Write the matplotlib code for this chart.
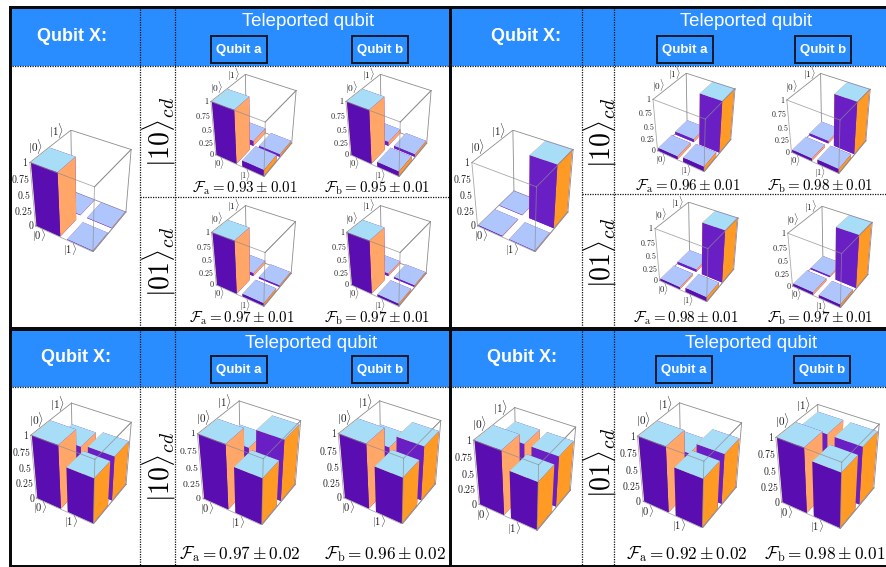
# plot.py
# four panels of teleported qubit bar charts

import matplotlib
matplotlib.use('Agg')
import matplotlib.pyplot as plt
from matplotlib.patches import Rectangle
from mpl_toolkits.mplot3d import proj3d

plt.rcParams['mathtext.fontset'] = 'cm'
plt.rcParams['font.family'] = ['Liberation Sans', 'DejaVu Sans']

W, H = 886, 567

# bar heights, order: |0>|0>, |0>|1>, |1>|0>, |1>|1>
tl_x = [1.0, 0.005, 0.005, 0.005]
tl_a10 = [1.0, 0.10, 0.12, 0.05]
tl_b10 = [1.0, 0.08, 0.09, 0.05]
tl_a01 = [1.0, 0.06, 0.05, 0.03]
tl_b01 = [1.0, 0.05, 0.04, 0.03]
tr_x = [0.01, 0.005, 0.005, 1.0]
tr_a10 = [0.06, 0.06, 0.09, 1.0]
tr_b10 = [0.05, 0.05, 0.08, 1.0]
tr_a01 = [0.04, 0.05, 0.08, 1.0]
tr_b01 = [0.05, 0.03, 0.05, 1.0]
bl_x = [1.0, 0.68, 0.72, 0.72]
bl_a = [1.0, 0.65, 0.72, 0.95]
bl_b = [1.0, 0.65, 0.72, 0.85]
br_x = [1.0, 0.80, 0.75, 0.80]
br_a = [1.0, 0.60, 0.75, 0.78]
br_b = [1.0, 0.90, 0.85, 0.90]

z_ticks = [0, 0.25, 0.5, 0.75, 1]
z_tick_labels = ['0', '0.25', '0.5', '0.75', '1']
ket_labels = [r'$|0\rangle$', r'$|1\rangle$']

fid_tl = ['0.93', '0.95', '0.97', '0.97']
fid_tr = ['0.96', '0.98', '0.98', '0.97']
fid_bl = ['0.97', '0.96']
fid_br = ['0.92', '0.98']
err_bl = ['0.02', '0.02']
err_br = ['0.02', '0.01']

# chart, then wire box in pixels: left, right, top, bottom
charts = [
    (tl_x, 30, 131, 130, 252), (tl_a10, 212, 295, 73, 178), (tl_b10, 347, 430, 73, 178),
    (tl_a01, 212, 295, 205, 307), (tl_b01, 347, 430, 205, 307),
    (tr_x, 472, 573, 130, 252), (tr_a10, 654, 734, 72, 173), (tr_b10, 788, 869, 72, 175),
    (tr_a01, 656, 737, 201, 303), (tr_b01, 788, 872, 206, 308),
    (bl_x, 30, 132, 404, 523), (bl_a, 199, 299, 399, 527), (bl_b, 339, 440, 400, 525),
    (br_x, 473, 576, 408, 530), (br_a, 639, 740, 401, 530), (br_b, 777, 878, 403, 530),
]

BLUE = '#2A8DFF'

fig = plt.figure(figsize=(W / 100, H / 100), dpi=100, facecolor='white')
bg = fig.add_axes([0, 0, 1, 1])
bg.set_xlim(0, W)
bg.set_ylim(H, 0)
bg.axis('off')


def header(x0, y0, y1, xq, tx, boxa, boxb, by):
    bg.add_patch(Rectangle((x0, y0), 886, y1 - y0, fc=BLUE, ec='none', zorder=1))
    bg.text(xq, (y0 + y1) / 2 - 1, 'Qubit X:', color='white', fontsize=13, fontweight='bold',
            ha='center', va='center', zorder=3)
    bg.text(tx, y0 + 13, 'Teleported qubit', color='white', fontsize=13.4, ha='center', va='center', zorder=3)
    for bx, name in ((boxa, 'Qubit a'), (boxb, 'Qubit b')):
        bg.add_patch(Rectangle((bx, by), 56, 27, fc=BLUE, ec='#101828', lw=1.4, zorder=2))
        bg.text(bx + 28, by + 13.5, name, color='white', fontsize=9.5, fontweight='bold',
                ha='center', va='center', zorder=3)


for args in [(12, 9, 66, 72, 308, 211, 352, 36), (452, 9, 66, 526, 746, 657, 795, 36),
             (12, 331, 387, 76, 311, 211, 352, 356), (452, 331, 387, 522, 751, 656, 794, 356)]:
    header(*args)

# dotted grid
dot = dict(color='#111111', lw=0.9, ls=(0, (1, 1)), zorder=4)
for xv in (140.5, 175.5, 582.5, 614.5):
    bg.plot([xv, xv], [9, 327], **dot)
    bg.plot([xv, xv], [331, 565], **dot)
bg.plot([12, 886], [66, 66], **dot)
bg.plot([12, 886], [387, 387], **dot)
bg.plot([140, 449], [197, 197], **dot)
bg.plot([582, 886], [194, 194], **dot)

# black frame
for rect in [(9, 6, 877, 3), (9, 6, 3, 561), (9, 564.5, 877, 2.5), (9, 327, 877, 4), (449, 6, 3, 561)]:
    bg.add_patch(Rectangle(rect[:2], rect[2], rect[3], fc='#0a0a0a', ec='none', zorder=5))


# ket labels rotated in the dotted column
def ket(x, y, s):
    bg.text(x, y, s, rotation=90, fontsize=20, ha='center', va='center', zorder=3)


for x, y, s in [(159, 132, '10'), (159, 262, '01'), (159, 467, '10'),
                (600, 133, '10'), (600, 253, '01'), (600, 463, '01')]:
    ket(x, y, r'$|' + s + r'\rangle_{cd}$')


def fidelity(x, y, q, val, err, size):
    s = r'$\mathcal{F}_{\mathrm{' + q + r'}} = \mathbf{' + val + r'} \pm \mathbf{' + err + '}$'
    bg.text(x, y, s, fontsize=size, ha='center', va='center', zorder=3)


for (x, y), q, v in zip([(245, 188), (377, 188), (242, 318), (377, 318)], 'abab', fid_tl):
    fidelity(x, y, q, v, '0.01', 10.8)
for (x, y), q, v in zip([(688, 186), (820, 186), (686, 318), (820, 318)], 'abab', fid_tr):
    fidelity(x, y, q, v, '0.01', 10.8)
for x, q, v, e in zip((240, 385), 'ab', fid_bl, err_bl):
    fidelity(x, 554, q, v, e, 12.4)
for x, q, v, e in zip((687, 825), 'ab', fid_br, err_br):
    fidelity(x, 554, q, v, e, 12.4)


def draw_chart(vals, left, right, top, bottom):
    ax = fig.add_axes([0, 0, 0.5, 0.5], projection='3d', computed_zorder=False)
    ax.set_proj_type('persp', focal_length=0.65)
    ax.view_init(elev=38, azim=-58)
    ax.set_xlim(0, 2)
    ax.set_ylim(0, 2)
    ax.set_zlim(0, 1)
    ax.set_box_aspect((1, 1, 1.15))
    ax.set_axis_off()
    ax.patch.set_alpha(0)

    # fit the wire box onto its pixel place
    corners = [(a, b, c) for a in (0, 2) for b in (0, 2) for c in (0, 1)]
    xs, ys, _ = proj3d.proj_transform(*zip(*corners), ax.get_proj())
    fr = ax.transLimits.transform(list(zip(xs, ys)))
    fw = fr[:, 0].max() - fr[:, 0].min()
    fh = fr[:, 1].max() - fr[:, 1].min()
    s = ((right - left) / fw + (bottom - top) / fh) / 2
    px = (left + right) / 2 - s * (fr[:, 0].max() + fr[:, 0].min()) / 2
    py = H - (top + bottom) / 2 - s * (fr[:, 1].max() + fr[:, 1].min()) / 2
    ax.set_position([px / W, py / H, s / W, s / H])

    line = dict(color='#8c8c8c', lw=0.6)
    back = [((0, 2), (2, 2), (0, 0)), ((2, 2), (0, 2), (0, 0)), ((0, 0), (2, 2), (0, 1)),
            ((2, 2), (2, 2), (0, 1)), ((0, 2), (2, 2), (1, 1)), ((2, 2), (0, 2), (1, 1)),
            ((0, 0), (0, 2), (1, 1)), ((0, 0), (0, 2), (0, 0))]
    front = [((0, 2), (0, 0), (1, 1)), ((2, 2), (0, 0), (0, 1)), ((2, 2), (0, 2), (1, 1)),
             ((0, 2), (0, 0), (0, 0)), ((2, 2), (0, 2), (0, 0)), ((0, 0), (0, 0), (0, 1))]
    for e in back:
        ax.plot(*e, zorder=1, **line)

    bx = [0.02, 0.02, 1.12, 1.12]
    by = [0.02, 1.12, 0.02, 1.12]
    order = [1, 0, 3, 2]
    purple = ['#5A0DB0', '#6A1FC4', '#5A0DB0', '#6A1FC4']
    orange = ['#FFA668', '#FFA668', '#FF9A24', '#FF9A24']
    for n, i in enumerate(order):
        top_c = '#A8DDF8' if vals[i] > 0.4 else '#AEC6FB'
        faces = [purple[i], top_c, purple[i], purple[i], orange[i], orange[i]]
        ax.bar3d(bx[i], by[i], 0, 0.86, 0.86, vals[i], color=faces, shade=False,
                 linewidth=0, zorder=2 + n)
    for e in front:
        ax.plot(*e, zorder=7, alpha=0.75, **line)

    size = 7.0 * (right - left) / 100
    for z, lab in zip(z_ticks, z_tick_labels):
        ax.text(-0.05, 0, z, '$' + lab + '$', fontsize=size, ha='right', va='center', color='#222222')
    for xv, lab in zip((0.35, 1.42), ket_labels):
        ax.text(xv, -0.28, 0, lab, fontsize=size + 0.5, ha='center', va='center', color='#222222')
    for yv, lab in zip((0.5, 1.5), ket_labels):
        ax.text(-0.16, yv, 1.08, lab, fontsize=size + 1, ha='center', va='center', color='#222222')


for c in charts:
    draw_chart(*c)

fig.savefig('out.png', dpi=100)
